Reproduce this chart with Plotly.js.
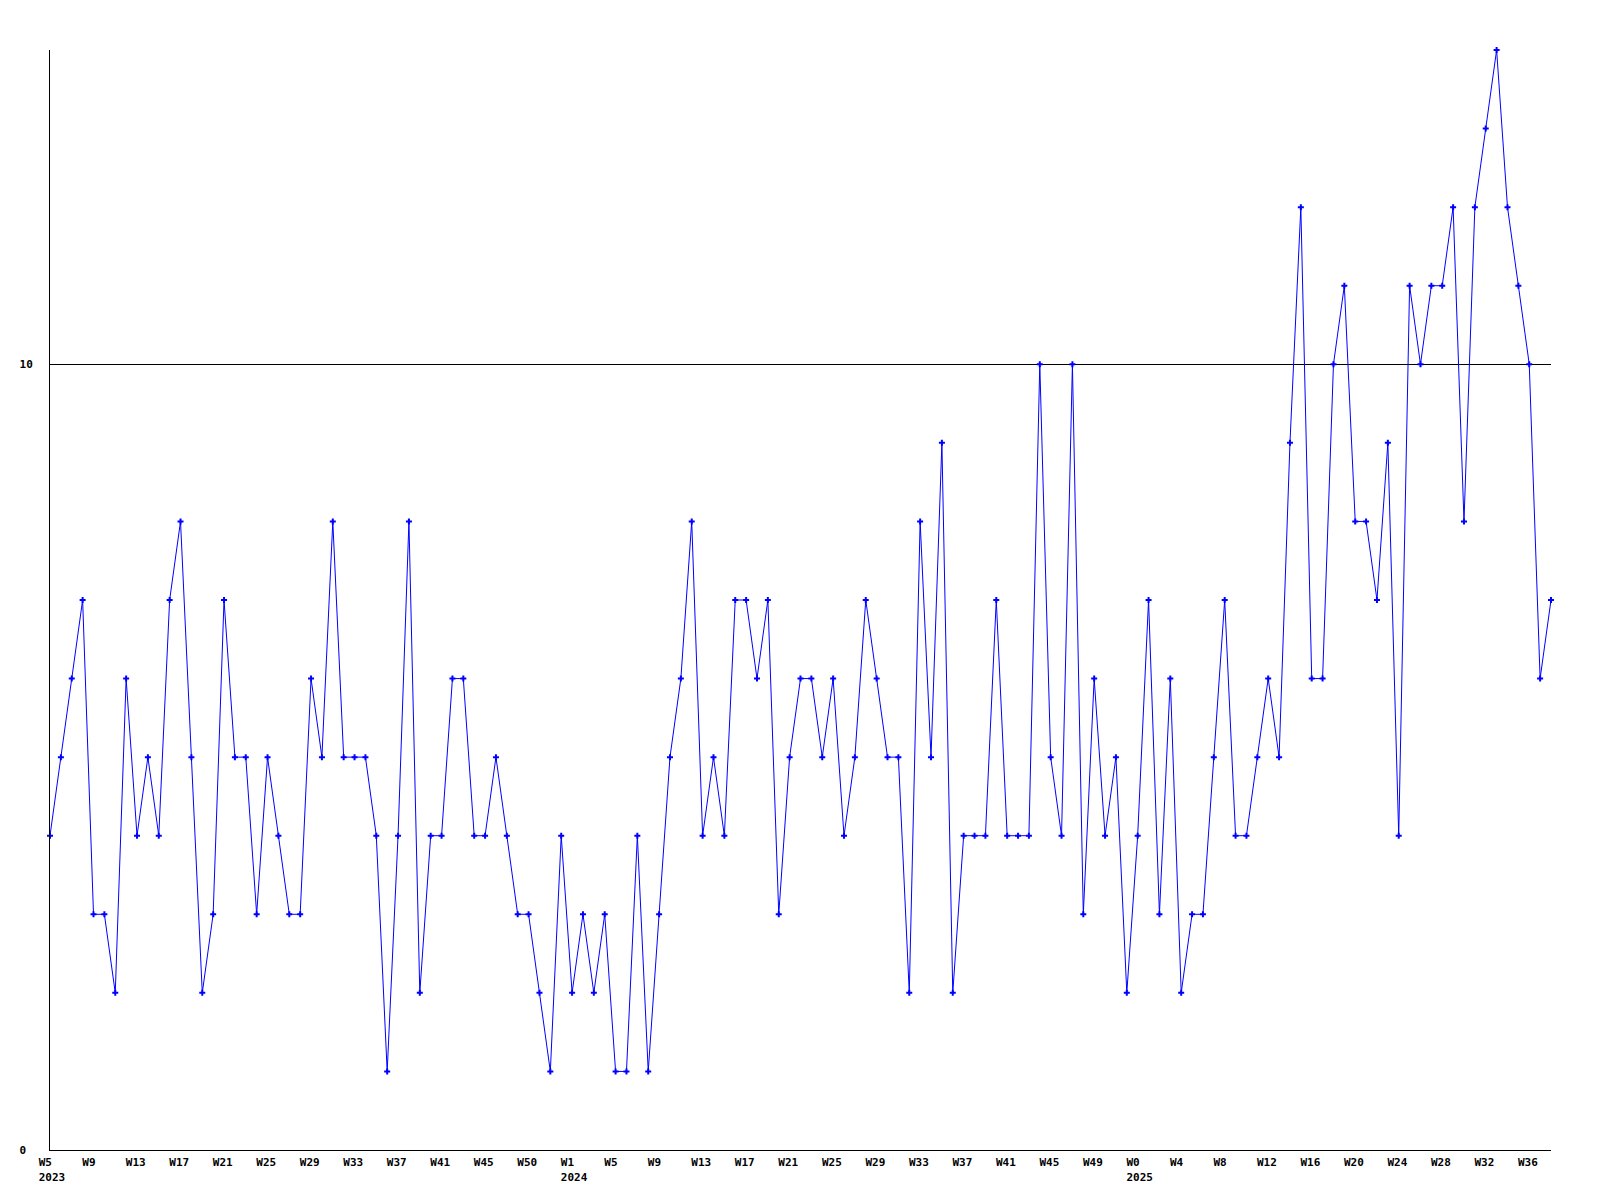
<!DOCTYPE html>
<html>
<head>
<meta charset="utf-8">
<script src="https://cdn.plot.ly/plotly-3.0.1.min.js"></script>
<style>
  html, body { margin: 0; padding: 0; background: #ffffff; }
  #chart { width: 1600px; height: 1200px; }
</style>
</head>
<body>
<div id="chart"></div>
<script>
// Weekly values, W5 2023 .. W38 2025 (one value per week)
const values = [
  4,5,6,7,3,3,2,6,4,5,4,7,8,5,2,3,7,5,5,3,5,4,3,3,6,5,8,5,5,5,4,1,4,8,2,4,4,
  6,6,4,4,5,4,3,3,2,1,4,2,3,2,3,1,1,4,1,3,5,6,8,4,5,4,7,7,6,7,3,5,6,6,5,6,
  4,5,7,6,5,5,2,8,5,9,2,4,4,4,7,4,4,4,10,5,4,10,3,6,4,5,2,4,7,3,
  6,2,3,3,5,7,4,4,5,6,5,9,12,6,6,10,11,8,8,7,9,4,
  11,10,11,11,12,8,12,13,14,12,11,10,6,7
];

// Tick labels, one on every 4th week
const weekTicks = [
  'W5','W9','W13','W17','W21','W25','W29','W33','W37','W41','W45','W50',
  'W1','W5','W9','W13','W17','W21','W25','W29','W33','W37','W41','W45','W49',
  'W0','W4','W8','W12','W16','W20','W24','W28','W32','W36'
];
const yearTicks = [
  '2023','','','','','','','','','','','',
  '2024','','','','','','','','','','','','',
  '2025','','','','','','','','',''
];
const tickStep = 4;

const yTickVals = [0, 10];
const yTickText = ['0', '10'];

const NB = '\u00a0';
function pad(s, n) { while (s.length < n) s += NB; return s; }

const xIdx = values.map((_, i) => i);
const tickVals = weekTicks.map((_, k) => k * tickStep);
const tickText = weekTicks.map((w, k) => pad(w, 4) + '<br>' + (yearTicks[k] ? yearTicks[k] : NB));

const trace = {
  x: xIdx,
  y: values,
  type: 'scatter',
  mode: 'lines+markers',
  line: { color: '#0000ff', width: 1 },
  marker: { color: '#0000ff', symbol: 'cross', size: 5 },
  cliponaxis: false,
  hoverinfo: 'skip'
};

const font = { family: 'DejaVu Sans Mono', size: 11, color: '#000000', weight: 'bold' };

const layout = {
  width: 1600,
  height: 1200,
  paper_bgcolor: '#ffffff',
  plot_bgcolor: '#ffffff',
  showlegend: false,
  margin: { l: 50, r: 49, t: 50, b: 50, pad: 0 },
  font: font,
  xaxis: {
    range: [0, values.length - 1],
    tickmode: 'array',
    tickvals: tickVals,
    ticktext: tickText,
    showgrid: false,
    zeroline: false,
    showline: true,
    linecolor: '#000000',
    linewidth: 1,
    ticks: '',
    tickangle: 0,
    ticklabelshift: 2,
    ticklabelstandoff: 2,
    tickfont: font,
    fixedrange: true
  },
  yaxis: {
    range: [0, 14],
    tickmode: 'array',
    tickvals: yTickVals,
    ticktext: yTickText.map(t => t.length < 2 ? t + NB : t),
    showgrid: true,
    gridcolor: '#000000',
    gridwidth: 1,
    zeroline: false,
    showline: true,
    linecolor: '#000000',
    linewidth: 1,
    ticks: '',
    ticklabelstandoff: 14,
    tickfont: font,
    fixedrange: true
  }
};

Plotly.newPlot('chart', [trace], layout, { staticPlot: true, displayModeBar: false });
</script>
</body>
</html>
